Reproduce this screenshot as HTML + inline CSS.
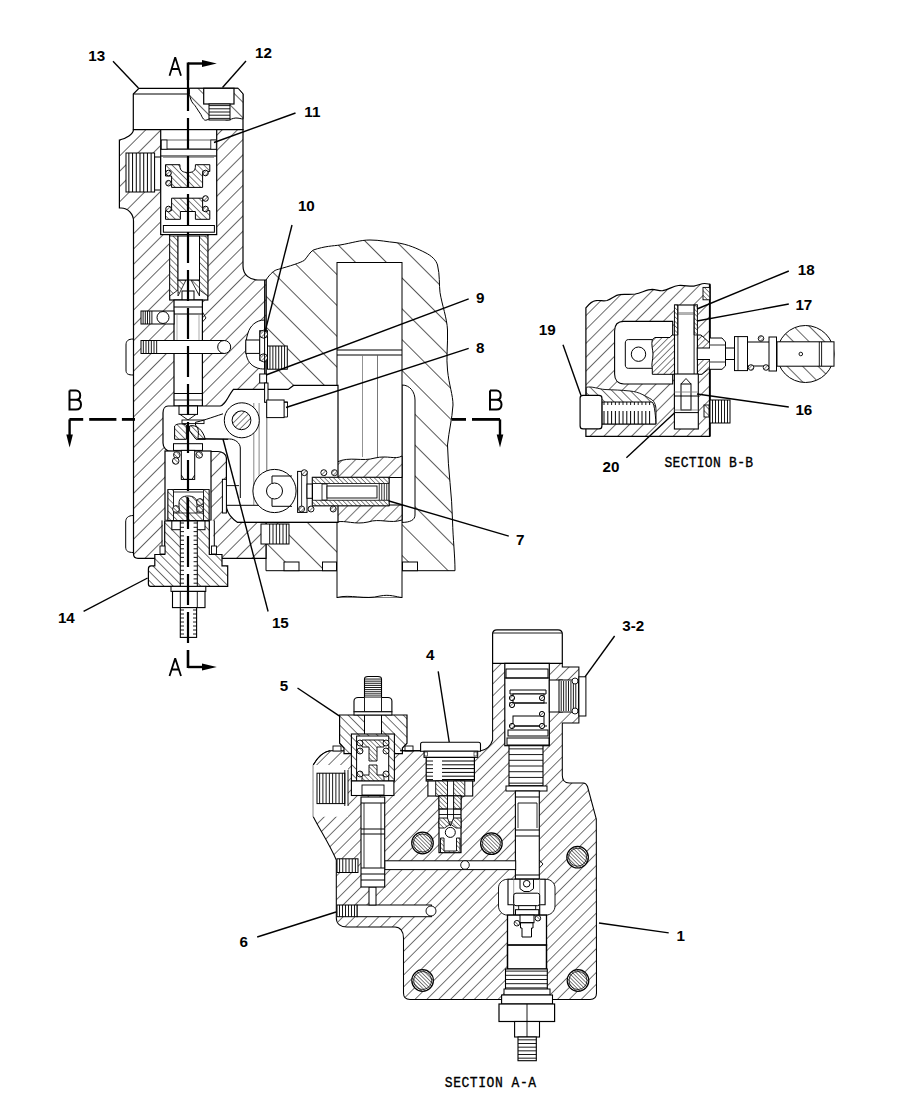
<!DOCTYPE html>
<html><head><meta charset="utf-8"><style>
html,body{margin:0;padding:0;background:#fff;}
svg{display:block;}
</style></head><body>
<svg width="918" height="1116" viewBox="0 0 918 1116" font-family="Liberation Sans">
<defs>
<pattern id="h1" width="10.8" height="10.8" patternUnits="userSpaceOnUse" patternTransform="rotate(45)"><line x1="0" y1="-1" x2="0" y2="12" stroke="#000" stroke-width="1.2"/></pattern>
<pattern id="hA" width="8.4" height="8.4" patternUnits="userSpaceOnUse" patternTransform="rotate(45)"><line x1="0" y1="-1" x2="0" y2="10" stroke="#000" stroke-width="1.1"/></pattern>
<pattern id="hB" width="9.8" height="9.8" patternUnits="userSpaceOnUse" patternTransform="rotate(45)"><line x1="0" y1="-1" x2="0" y2="11" stroke="#000" stroke-width="1.15"/></pattern>
<pattern id="h2" width="21.8" height="21.8" patternUnits="userSpaceOnUse" patternTransform="rotate(-45)"><line x1="0" y1="-1" x2="0" y2="23" stroke="#000" stroke-width="1.3"/></pattern>
<pattern id="h3" width="4.5" height="4.5" patternUnits="userSpaceOnUse" patternTransform="rotate(-45)"><line x1="0" y1="-1" x2="0" y2="6" stroke="#000" stroke-width="1"/></pattern>
<pattern id="h4" width="4.5" height="4.5" patternUnits="userSpaceOnUse" patternTransform="rotate(45)"><line x1="0" y1="-1" x2="0" y2="6" stroke="#000" stroke-width="1"/></pattern>
<pattern id="h5" width="3.2" height="3.2" patternUnits="userSpaceOnUse" patternTransform="rotate(-45)"><line x1="0" y1="-1" x2="0" y2="5" stroke="#000" stroke-width="0.9"/></pattern>
<pattern id="h6" width="9" height="9" patternUnits="userSpaceOnUse" patternTransform="rotate(45)"><line x1="0" y1="-1" x2="0" y2="10" stroke="#000" stroke-width="1.1"/></pattern>
<pattern id="h7" width="6.5" height="6.5" patternUnits="userSpaceOnUse" patternTransform="rotate(-45)"><line x1="0" y1="-1" x2="0" y2="8" stroke="#000" stroke-width="1.1"/></pattern>
<pattern id="hC" width="11" height="11" patternUnits="userSpaceOnUse" patternTransform="rotate(-45)"><line x1="0" y1="-1" x2="0" y2="12" stroke="#000" stroke-width="1.2"/></pattern>
<pattern id="hD" width="2.6" height="2.6" patternUnits="userSpaceOnUse" patternTransform="rotate(-45)"><line x1="0" y1="-1" x2="0" y2="4" stroke="#000" stroke-width="1.0"/></pattern>
<pattern id="h8" width="2.8" height="2.8" patternUnits="userSpaceOnUse" patternTransform="rotate(45)"><line x1="0" y1="-1" x2="0" y2="4" stroke="#000" stroke-width="0.9"/></pattern>
</defs>
<rect x="0" y="0" width="918" height="1116" fill="#fff"/>
<path d="M266,280 C270,274 274,270 278.4,269.3 C290,266 300,263 304.4,260.3 C308,256 310,252 313.4,250 C325,246 333,246 340,245 C352,243 360,240 370,240 C380,240 388,242 395,242.5 C408,244 418,249 425,252.5 C432,256 436,260 437.5,265 C440,275 439,285 440,292.5 C442,305 447,318 447.5,330 C448,345 446,358 447.5,370 C449,385 453,395 453,405 C452,420 449,430 447.5,445 C448,470 452,495 452.5,520 C453,540 455,555 455,570.7 L266,570.7 Z" fill="#fff" stroke="none"/>
<path d="M266,280 C270,274 274,270 278.4,269.3 C290,266 300,263 304.4,260.3 C308,256 310,252 313.4,250 C325,246 333,246 340,245 C352,243 360,240 370,240 C380,240 388,242 395,242.5 C408,244 418,249 425,252.5 C432,256 436,260 437.5,265 C440,275 439,285 440,292.5 C442,305 447,318 447.5,330 C448,345 446,358 447.5,370 C449,385 453,395 453,405 C452,420 449,430 447.5,445 C448,470 452,495 452.5,520 C453,540 455,555 455,570.7 L266,570.7 Z" fill="url(#h2)" stroke="#000" stroke-width="1" />
<path d="M266,389.3 L337,389.3 L337,522.4 L266,522.4 Z" fill="#fff" stroke="none" stroke-width="0" />
<path d="M402,385 C410,385 415,392 415,400 L415,515 C415,520 410,522.4 402,522.4 Z" fill="#fff" stroke="#000" stroke-width="1" />
<rect x="337" y="262.5" width="65" height="335" fill="#fff" stroke="#000" stroke-width="1" />
<path d="M337,597.5 C350,594 365,600 380,596 C390,594 396,597 402,597.5" fill="#fff" stroke="#000" stroke-width="1" />
<line x1="337" y1="350" x2="402" y2="350" stroke="#000" stroke-width="1" />
<line x1="337" y1="355" x2="402" y2="355" stroke="#000" stroke-width="1" />
<line x1="362.5" y1="355" x2="362.5" y2="457" stroke="#777" stroke-width="0.8" />
<line x1="377.5" y1="355" x2="377.5" y2="457" stroke="#555" stroke-width="0.8" />
<path d="M337,462 C350,456 362,462 375,458 C388,455 395,460 402,456 L402,477.5 L337,477.5 Z" fill="#fff" stroke="none"/>
<path d="M337,462 C350,456 362,462 375,458 C388,455 395,460 402,456 L402,477.5 L337,477.5 Z" fill="url(#h6)" stroke="#000" stroke-width="1" />
<path d="M337,505 L402,505 L402,520 C390,524 380,518 368,522 C355,525 345,520 337,522 Z" fill="#fff" stroke="none"/>
<path d="M337,505 L402,505 L402,520 C390,524 380,518 368,522 C355,525 345,520 337,522 Z" fill="url(#h6)" stroke="#000" stroke-width="1" />
<rect x="284" y="562" width="15" height="8.7" fill="#fff" stroke="#000" stroke-width="1" />
<rect x="322.5" y="562" width="14" height="8.7" fill="#fff" stroke="#000" stroke-width="1" />
<rect x="402.5" y="562" width="15" height="8.7" fill="#fff" stroke="#000" stroke-width="1" />
<line x1="266" y1="522.4" x2="337" y2="522.4" stroke="#000" stroke-width="1" />
<path d="M138.9,88.3 L238,88.3 L243,94 L243,129.6 L133.3,129.6 L133.3,94 Z" fill="#fff" stroke="#000" stroke-width="1.2" />
<line x1="133.3" y1="94" x2="190" y2="94" stroke="#000" stroke-width="1" />
<path d="M189.4,94.5 C190,97 190.5,99 191.6,101.3 C193,104 195,105 196.2,107.4 C198,110 199,112 200.8,114.3 C202,117 203,119 204.6,120 C206,121 208,119 210,118.9 C214,118 217,116 220.6,117.3 C223,118 225,120 226.7,120 C230,120 233,118 235.9,118 C239,118 241,119 243,118.9 L243,94 L238,88.3 L189.4,88.3 Z" fill="#fff" stroke="none"/>
<path d="M189.4,94.5 C190,97 190.5,99 191.6,101.3 C193,104 195,105 196.2,107.4 C198,110 199,112 200.8,114.3 C202,117 203,119 204.6,120 C206,121 208,119 210,118.9 C214,118 217,116 220.6,117.3 C223,118 225,120 226.7,120 C230,120 233,118 235.9,118 C239,118 241,119 243,118.9 L243,94 L238,88.3 L189.4,88.3 Z" fill="url(#hC)" stroke="#000" stroke-width="1" />
<rect x="203.7" y="88.3" width="30.3" height="15.7" fill="#fff" stroke="#000" stroke-width="1.2" />
<rect x="209" y="104" width="21" height="16" fill="#fff" stroke="#000" stroke-width="1" />
<line x1="209" y1="105.6" x2="230" y2="105.6" stroke="#000" stroke-width="0.9" />
<line x1="209" y1="108.8" x2="230" y2="108.8" stroke="#000" stroke-width="0.9" />
<line x1="209" y1="112" x2="230" y2="112" stroke="#000" stroke-width="0.9" />
<line x1="209" y1="115.2" x2="230" y2="115.2" stroke="#000" stroke-width="0.9" />
<line x1="209" y1="118.4" x2="230" y2="118.4" stroke="#000" stroke-width="0.9" />
<path d="M133.5,129.6 L243,129.6 L243,266 C243,275 250,280 258,280 L266,280 L266,558.3 L138,558.3 Q133.5,558.3 133.5,554 L133.5,221 C133.5,214 128,208 121,208 L119.4,208 L119.4,140 C126,139 133.5,134 133.5,129.6 Z" fill="#fff" stroke="none"/>
<path d="M133.5,129.6 L243,129.6 L243,266 C243,275 250,280 258,280 L266,280 L266,558.3 L138,558.3 Q133.5,558.3 133.5,554 L133.5,221 C133.5,214 128,208 121,208 L119.4,208 L119.4,140 C126,139 133.5,134 133.5,129.6 Z" fill="url(#h1)" stroke="#000" stroke-width="1.2" />
<path d="M133.5,339 C128,339 126,341 126,345 L126,370 C126,374 128,375 133.5,375" fill="none" stroke="#000" stroke-width="1" />
<path d="M133.5,515.5 C128,515.5 125.7,518 125.7,522 L125.7,547 C125.7,551 128,552.5 133.5,552.5" fill="none" stroke="#000" stroke-width="1" />
<rect x="126" y="153" width="28.6" height="39" fill="#fff" stroke="#000" stroke-width="1" />
<line x1="128.86" y1="153" x2="128.86" y2="192" stroke="#000" stroke-width="1" />
<line x1="132.57" y1="153" x2="132.57" y2="192" stroke="#000" stroke-width="1" />
<line x1="136.29" y1="153" x2="136.29" y2="192" stroke="#000" stroke-width="1" />
<line x1="140" y1="153" x2="140" y2="192" stroke="#000" stroke-width="1" />
<line x1="143.71" y1="153" x2="143.71" y2="192" stroke="#000" stroke-width="1" />
<line x1="147.43" y1="153" x2="147.43" y2="192" stroke="#000" stroke-width="1" />
<line x1="151.14" y1="153" x2="151.14" y2="192" stroke="#000" stroke-width="1" />
<rect x="154.6" y="157" width="6.1" height="33" fill="#fff" stroke="#000" stroke-width="1" />
<rect x="160.7" y="129.6" width="56" height="105" fill="#fff" stroke="#000" stroke-width="1.2" />
<line x1="160.7" y1="140" x2="216.7" y2="140" stroke="#555" stroke-width="0.9" />
<line x1="160.7" y1="149.2" x2="216.7" y2="149.2" stroke="#000" stroke-width="1.2" />
<rect x="161.3" y="140" width="5.7" height="9.2" fill="#fff" stroke="#000" stroke-width="0.8" />
<rect x="210.8" y="140" width="5.5" height="9.2" fill="#fff" stroke="#000" stroke-width="0.8" />
<line x1="163" y1="157.5" x2="214" y2="157.5" stroke="#888" stroke-width="0.8" />
<line x1="160.7" y1="156" x2="216.7" y2="156" stroke="#000" stroke-width="1.2" />
<path d="M165.5,164.7 L179.9,164.7 L179.9,166 C180,171 183,172.5 188,172.5 C193,172.5 195.4,171 195.4,166 L195.4,164.7 L209.8,164.7 L209.8,171.5 L202.6,171.5 L202.6,187.4 L171.6,187.4 L171.6,176 L165.5,176 Z" fill="#fff" stroke="none"/>
<path d="M165.5,164.7 L179.9,164.7 L179.9,166 C180,171 183,172.5 188,172.5 C193,172.5 195.4,171 195.4,166 L195.4,164.7 L209.8,164.7 L209.8,171.5 L202.6,171.5 L202.6,187.4 L171.6,187.4 L171.6,176 L165.5,176 Z" fill="url(#h3)" stroke="#000" stroke-width="1" />
<path d="M171.6,198.2 L202.6,198.2 L202.6,210.6 L209.8,210.6 L209.8,219.3 L195.4,219.3 L195.4,211.5 L180.4,211.5 L180.4,219.3 L165.5,219.3 L165.5,210.6 L171.6,210.6 Z" fill="#fff" stroke="none"/>
<path d="M171.6,198.2 L202.6,198.2 L202.6,210.6 L209.8,210.6 L209.8,219.3 L195.4,219.3 L195.4,211.5 L180.4,211.5 L180.4,219.3 L165.5,219.3 L165.5,210.6 L171.6,210.6 Z" fill="url(#h3)" stroke="#000" stroke-width="1" />
<circle cx="168.5" cy="173" r="2.8" fill="#fff"/>
<circle cx="168.5" cy="173" r="2.8" fill="url(#h8)" stroke="#000" stroke-width="1" />
<circle cx="168.5" cy="183.2" r="2.8" fill="#fff"/>
<circle cx="168.5" cy="183.2" r="2.8" fill="url(#h8)" stroke="#000" stroke-width="1" />
<circle cx="205.5" cy="173" r="2.8" fill="#fff"/>
<circle cx="205.5" cy="173" r="2.8" fill="url(#h8)" stroke="#000" stroke-width="1" />
<circle cx="168.5" cy="209" r="2.8" fill="#fff"/>
<circle cx="168.5" cy="209" r="2.8" fill="url(#h8)" stroke="#000" stroke-width="1" />
<circle cx="205.5" cy="198.5" r="2.8" fill="#fff"/>
<circle cx="205.5" cy="198.5" r="2.8" fill="url(#h8)" stroke="#000" stroke-width="1" />
<circle cx="205.5" cy="209" r="2.8" fill="#fff"/>
<circle cx="205.5" cy="209" r="2.8" fill="url(#h8)" stroke="#000" stroke-width="1" />
<rect x="163.4" y="225.5" width="51" height="6.7" fill="#fff" stroke="#000" stroke-width="1" />
<rect x="169.7" y="234.6" width="38.1" height="65.4" fill="#fff" stroke="#000" stroke-width="1.2" />
<path d="M169.7,236 L178,236 L178,290 L169.7,296 Z" fill="#fff" stroke="none"/>
<path d="M169.7,236 L178,236 L178,290 L169.7,296 Z" fill="url(#h3)" stroke="#000" stroke-width="0.8" />
<path d="M199.5,236 L207.8,236 L207.8,296 L199.5,290 Z" fill="#fff" stroke="none"/>
<path d="M199.5,236 L207.8,236 L207.8,296 L199.5,290 Z" fill="url(#h3)" stroke="#000" stroke-width="0.8" />
<path d="M178,280 L186,280 L178,296 Z M199.5,280 L191,280 L199.5,296 Z" fill="#fff" stroke="none"/>
<path d="M178,280 L186,280 L178,296 Z M199.5,280 L191,280 L199.5,296 Z" fill="url(#h3)" stroke="#000" stroke-width="0.8" />
<rect x="178" y="236" width="21.5" height="44" fill="#fff" stroke="#000" stroke-width="1" />
<rect x="182" y="291" width="12" height="9" fill="#fff" stroke="#000" stroke-width="1" />
<rect x="174" y="300" width="28.4" height="106" fill="#fff" stroke="#000" stroke-width="1.2" />
<line x1="174" y1="307" x2="202.4" y2="307" stroke="#000" stroke-width="1" />
<line x1="174" y1="314" x2="202.4" y2="314" stroke="#000" stroke-width="1" />
<line x1="174" y1="344" x2="202.4" y2="344" stroke="#000" stroke-width="1" />
<line x1="174" y1="349" x2="202.4" y2="349" stroke="#000" stroke-width="1" />
<line x1="174" y1="393.5" x2="202.4" y2="393.5" stroke="#000" stroke-width="1" />
<line x1="174" y1="400" x2="202.4" y2="400" stroke="#000" stroke-width="0.8" />
<line x1="177" y1="314" x2="177" y2="344" stroke="#888" stroke-width="0.7" />
<line x1="199" y1="314" x2="199" y2="344" stroke="#888" stroke-width="0.7" />
<rect x="141" y="311" width="33" height="13" fill="#fff" stroke="#000" stroke-width="1" />
<line x1="143.1" y1="311" x2="143.1" y2="324" stroke="#000" stroke-width="0.9" />
<line x1="145.3" y1="311" x2="145.3" y2="324" stroke="#000" stroke-width="0.9" />
<line x1="147.5" y1="311" x2="147.5" y2="324" stroke="#000" stroke-width="0.9" />
<line x1="149.7" y1="311" x2="149.7" y2="324" stroke="#000" stroke-width="0.9" />
<line x1="151.9" y1="311" x2="151.9" y2="324" stroke="#000" stroke-width="0.9" />
<circle cx="163" cy="317.5" r="6" fill="#fff" stroke="#000" stroke-width="1" />
<rect x="141" y="340.5" width="83" height="13" fill="#fff" stroke="#000" stroke-width="1" />
<line x1="143.33" y1="340.5" x2="143.33" y2="353.5" stroke="#000" stroke-width="0.9" />
<line x1="146" y1="340.5" x2="146" y2="353.5" stroke="#000" stroke-width="0.9" />
<line x1="148.67" y1="340.5" x2="148.67" y2="353.5" stroke="#000" stroke-width="0.9" />
<line x1="151.33" y1="340.5" x2="151.33" y2="353.5" stroke="#000" stroke-width="0.9" />
<line x1="154" y1="340.5" x2="154" y2="353.5" stroke="#000" stroke-width="0.9" />
<line x1="156.67" y1="340.5" x2="156.67" y2="353.5" stroke="#000" stroke-width="0.9" />
<circle cx="224.2" cy="347" r="6.5" fill="#fff" stroke="#000" stroke-width="1" />
<path d="M202.4,312 L206,318 L202.4,322" fill="none" stroke="#000" stroke-width="0.9" />
<path d="M264.6,320 C256,320 250,326 248,333 C246,338 245.8,345 245.8,350 C246,358 249,364 255,367 C259,369 262,369 264.6,369 Z" fill="#fff" stroke="#000" stroke-width="1" />
<rect x="245.8" y="340" width="13.9" height="13.4" fill="#fff" stroke="#000" stroke-width="1" />
<rect x="259.7" y="330.7" width="7.8" height="29.6" fill="#fff" stroke="#000" stroke-width="1" />
<circle cx="263.6" cy="334.2" r="4" fill="#fff"/>
<circle cx="263.6" cy="334.2" r="4" fill="url(#h8)" stroke="#000" stroke-width="0.9" />
<circle cx="263.6" cy="357.8" r="4" fill="#fff"/>
<circle cx="263.6" cy="357.8" r="4" fill="url(#h8)" stroke="#000" stroke-width="0.9" />
<rect x="267.5" y="346" width="19.8" height="23.2" fill="#fff" stroke="#000" stroke-width="1" />
<line x1="269.96" y1="346" x2="269.96" y2="369.2" stroke="#000" stroke-width="0.9" />
<line x1="272.88" y1="346" x2="272.88" y2="369.2" stroke="#000" stroke-width="0.9" />
<line x1="275.79" y1="346" x2="275.79" y2="369.2" stroke="#000" stroke-width="0.9" />
<line x1="278.71" y1="346" x2="278.71" y2="369.2" stroke="#000" stroke-width="0.9" />
<line x1="281.62" y1="346" x2="281.62" y2="369.2" stroke="#000" stroke-width="0.9" />
<line x1="284.54" y1="346" x2="284.54" y2="369.2" stroke="#000" stroke-width="0.9" />
<line x1="264.6" y1="280" x2="264.6" y2="389.4" stroke="#000" stroke-width="1" />
<rect x="259.7" y="374" width="6.9" height="9" fill="#fff" stroke="#000" stroke-width="1" />
<path d="M168,406 L220.4,406 C225,406 228,396 233.4,389.4 L288.2,389.4 L293.5,385.4 L338,385.4 L338,522.4 L237.6,522.4 C231,518 226.4,512 226.4,505 L226.4,458 C226.4,454 222,451.5 218,451.5 L172,451.7 C166,451.7 163,447 163,443 L163,413 C163,409 165,406 168,406 Z" fill="#fff" stroke="#000" stroke-width="1.2" />
<path d="M198,439 L229.6,439 C235,439 240.3,443 240.3,448 L240.3,498" fill="none" stroke="#000" stroke-width="1" />
<rect x="222.4" y="479.3" width="4" height="33.7" fill="#fff" stroke="#000" stroke-width="1" />
<line x1="226.9" y1="485.6" x2="239" y2="485.6" stroke="#000" stroke-width="0.9" />
<line x1="253.8" y1="403" x2="253.8" y2="505" stroke="#888" stroke-width="1" />
<line x1="259.1" y1="403" x2="259.1" y2="505" stroke="#888" stroke-width="1" />
<line x1="266.8" y1="403" x2="266.8" y2="505" stroke="#666" stroke-width="1" />
<line x1="226.4" y1="505.3" x2="266.8" y2="505.3" stroke="#000" stroke-width="1" />
<line x1="237.6" y1="522.4" x2="338" y2="522.4" stroke="#000" stroke-width="1" />
<rect x="165" y="451" width="46" height="69.4" fill="#fff" stroke="#000" stroke-width="1.2" />
<path d="M162.7,520.4 L213.4,520.4 L213.4,558.3 L162.7,558.3 Z" fill="#fff" stroke="none" stroke-width="0" />
<line x1="162" y1="520.4" x2="162" y2="558.3" stroke="#000" stroke-width="1" />
<line x1="214.3" y1="520.4" x2="214.3" y2="558.3" stroke="#000" stroke-width="1" />
<rect x="168" y="489.5" width="41" height="31" fill="#fff" stroke="#000" stroke-width="1" />
<path d="M168,489.5 L173.5,489.5 L173.5,520.5 L168,520.5 Z M203.5,489.5 L209,489.5 L209,520.5 L203.5,520.5 Z" fill="#fff" stroke="none"/>
<path d="M168,489.5 L173.5,489.5 L173.5,520.5 L168,520.5 Z M203.5,489.5 L209,489.5 L209,520.5 L203.5,520.5 Z" fill="url(#h3)" stroke="#000" stroke-width="0.8" />
<rect x="173.5" y="492" width="30" height="28.5" fill="#fff" stroke="#000" stroke-width="0.8" />
<path d="M179,520 L179,503 C179,498 183,496 188,496 C193,496 197,498 197,503 L197,520 Z" fill="#fff" stroke="none"/>
<path d="M179,520 L179,503 C179,498 183,496 188,496 C193,496 197,498 197,503 L197,520 Z" fill="url(#h3)" stroke="#000" stroke-width="0.9" />
<path d="M173.5,513 L203.5,513 L203.5,520.5 L173.5,520.5 Z" fill="#fff" stroke="none"/>
<path d="M173.5,513 L203.5,513 L203.5,520.5 L173.5,520.5 Z" fill="url(#h3)" stroke="#000" stroke-width="0.8" />
<line x1="187.5" y1="497" x2="187.5" y2="520" stroke="#000" stroke-width="2" />
<circle cx="176" cy="509" r="3.4" fill="#fff"/>
<circle cx="176" cy="509" r="3.4" fill="url(#h5)" stroke="#000" stroke-width="0.9" />
<circle cx="200" cy="509" r="3.4" fill="#fff"/>
<circle cx="200" cy="509" r="3.4" fill="url(#h5)" stroke="#000" stroke-width="0.9" />
<circle cx="200" cy="502" r="3.4" fill="#fff"/>
<circle cx="200" cy="502" r="3.4" fill="url(#h5)" stroke="#000" stroke-width="0.9" />
<rect x="173.5" y="443.7" width="29" height="6.7" fill="#fff" stroke="#000" stroke-width="1" />
<rect x="181.3" y="450.4" width="13.4" height="29" fill="#fff" stroke="#000" stroke-width="1" />
<path d="M181.3,475 L184,479.4 L192,479.4 L194.7,475" fill="none" stroke="#000" stroke-width="0.9" />
<circle cx="176.8" cy="454.9" r="3.3" fill="#fff"/>
<circle cx="176.8" cy="454.9" r="3.3" fill="url(#h5)" stroke="#000" stroke-width="0.9" />
<circle cx="199.2" cy="454.9" r="3.3" fill="#fff"/>
<circle cx="199.2" cy="454.9" r="3.3" fill="url(#h5)" stroke="#000" stroke-width="0.9" />
<circle cx="175.7" cy="461" r="3.3" fill="#fff"/>
<circle cx="175.7" cy="461" r="3.3" fill="url(#h5)" stroke="#000" stroke-width="0.9" />
<rect x="179" y="406" width="18.5" height="8.4" fill="#fff" stroke="#000" stroke-width="1" />
<path d="M180,414.4 L188,420 L196,414.4" fill="none" stroke="#000" stroke-width="0.9" />
<rect x="182" y="420" width="22" height="3.6" fill="#fff" stroke="#000" stroke-width="0.9" />
<path d="M174.6,426 C177,423 183,423.6 186.4,425 L186.4,439.3 L174.6,439.3 Z" fill="#fff" stroke="none"/>
<path d="M174.6,426 C177,423 183,423.6 186.4,425 L186.4,439.3 L174.6,439.3 Z" fill="url(#h3)" stroke="#000" stroke-width="1" />
<path d="M189.6,426 C196,424 203,430 205.3,439.3 L196,439.3 L189.6,431 Z" fill="#fff" stroke="none"/>
<path d="M189.6,426 C196,424 203,430 205.3,439.3 L196,439.3 L189.6,431 Z" fill="url(#h3)" stroke="#000" stroke-width="1" />
<line x1="264.6" y1="402.2" x2="288" y2="402.2" stroke="#000" stroke-width="1" />
<path d="M223,413.8 C210,418 202,421 195.5,422.3 L195.5,425 C200,430 198,435 198,438.6 L228,439.3" fill="none" stroke="#000" stroke-width="1" />
<circle cx="241.8" cy="420.3" r="17.5" fill="#fff" stroke="#000" stroke-width="1" />
<circle cx="241.5" cy="420.3" r="9.4" fill="#fff"/>
<circle cx="241.5" cy="420.3" r="9.4" fill="url(#h4)" stroke="#000" stroke-width="1" />
<rect x="264.6" y="383" width="3.4" height="19.2" fill="#fff" stroke="#000" stroke-width="1" />
<rect x="266.7" y="400" width="17.4" height="17.6" fill="#fff" stroke="#000" stroke-width="1" />
<path d="M284.1,402 L287.5,402 L287.5,417 M284.1,417 L287.5,417" fill="none" stroke="#000" stroke-width="0.9" />
<circle cx="274.5" cy="491" r="21.6" fill="#fff" stroke="#000" stroke-width="1" />
<circle cx="274.5" cy="491" r="8" fill="#fff" stroke="#000" stroke-width="1" />
<path d="M292,476 L272,476 L272,483 M272,499 L272,506.3 L292,506.3" fill="none" stroke="#000" stroke-width="1" />
<rect x="297.6" y="471.4" width="9.4" height="41" fill="#fff" stroke="#000" stroke-width="1" />
<line x1="301.6" y1="471.4" x2="301.6" y2="512.4" stroke="#000" stroke-width="0.8" />
<rect x="307" y="484" width="5.4" height="14.3" fill="#fff" stroke="#000" stroke-width="1" />
<rect x="312.4" y="477.4" width="76.6" height="28.3" fill="#fff" stroke="#000" stroke-width="1.2" />
<path d="M312.4,477.4 L389,477.4 L389,483.5 L312.4,483.5 Z" fill="#fff" stroke="none"/>
<path d="M312.4,477.4 L389,477.4 L389,483.5 L312.4,483.5 Z" fill="url(#h5)" stroke="#000" stroke-width="0.8" />
<path d="M312.4,500.3 L389,500.3 L389,505.7 L312.4,505.7 Z" fill="#fff" stroke="none"/>
<path d="M312.4,500.3 L389,500.3 L389,505.7 L312.4,505.7 Z" fill="url(#h5)" stroke="#000" stroke-width="0.8" />
<rect x="322" y="484" width="5" height="16" fill="#fff" stroke="#000" stroke-width="0.8" />
<rect x="327" y="486" width="50" height="12" fill="#fff" stroke="#000" stroke-width="0.9" />
<line x1="379.25" y1="483.5" x2="379.25" y2="500" stroke="#000" stroke-width="0.8" />
<line x1="381.75" y1="483.5" x2="381.75" y2="500" stroke="#000" stroke-width="0.8" />
<line x1="384.25" y1="483.5" x2="384.25" y2="500" stroke="#000" stroke-width="0.8" />
<line x1="386.75" y1="483.5" x2="386.75" y2="500" stroke="#000" stroke-width="0.8" />
<circle cx="304.3" cy="472.7" r="3" fill="#fff"/>
<circle cx="304.3" cy="472.7" r="3" fill="url(#h8)" stroke="#000" stroke-width="0.9" />
<circle cx="323.8" cy="472.7" r="3" fill="#fff"/>
<circle cx="323.8" cy="472.7" r="3" fill="url(#h8)" stroke="#000" stroke-width="0.9" />
<circle cx="334.5" cy="472.7" r="3" fill="#fff"/>
<circle cx="334.5" cy="472.7" r="3" fill="url(#h8)" stroke="#000" stroke-width="0.9" />
<circle cx="301.6" cy="509" r="3" fill="#fff"/>
<circle cx="301.6" cy="509" r="3" fill="url(#h8)" stroke="#000" stroke-width="0.9" />
<circle cx="311" cy="509" r="3" fill="#fff"/>
<circle cx="311" cy="509" r="3" fill="url(#h8)" stroke="#000" stroke-width="0.9" />
<circle cx="333.2" cy="509" r="3" fill="#fff"/>
<circle cx="333.2" cy="509" r="3" fill="url(#h8)" stroke="#000" stroke-width="0.9" />
<rect x="261" y="524" width="28" height="20" fill="#fff" stroke="#000" stroke-width="1" />
<line x1="269.67" y1="524" x2="269.67" y2="544" stroke="#000" stroke-width="0.9" />
<line x1="273" y1="524" x2="273" y2="544" stroke="#000" stroke-width="0.9" />
<line x1="276.33" y1="524" x2="276.33" y2="544" stroke="#000" stroke-width="0.9" />
<line x1="279.67" y1="524" x2="279.67" y2="544" stroke="#000" stroke-width="0.9" />
<line x1="283" y1="524" x2="283" y2="544" stroke="#000" stroke-width="0.9" />
<line x1="286.33" y1="524" x2="286.33" y2="544" stroke="#000" stroke-width="0.9" />
<path d="M164.7,521 L209.3,521 L209.3,554.5 L222,554.5 L222,565.9 L227.7,565.9 L227.7,586.4 L150.5,586.4 Q148.4,586.4 148.4,584 L148.4,569 Q148.4,565.9 151,565.9 L154.8,565.9 L154.8,554.5 L164.7,554.5 Z" fill="#fff" stroke="none"/>
<path d="M164.7,521 L209.3,521 L209.3,554.5 L222,554.5 L222,565.9 L227.7,565.9 L227.7,586.4 L150.5,586.4 Q148.4,586.4 148.4,584 L148.4,569 Q148.4,565.9 151,565.9 L154.8,565.9 L154.8,554.5 L164.7,554.5 Z" fill="url(#h7)" stroke="#000" stroke-width="1.2" />
<rect x="171.8" y="521" width="33.2" height="8.7" fill="#fff" stroke="#000" stroke-width="1" />
<rect x="180.3" y="521" width="17" height="65.4" fill="#fff" stroke="#000" stroke-width="1" />
<line x1="180.3" y1="523" x2="184" y2="523" stroke="#000" stroke-width="0.9" />
<line x1="193.6" y1="523" x2="197.3" y2="523" stroke="#000" stroke-width="0.9" />
<line x1="180.3" y1="527.3" x2="184" y2="527.3" stroke="#000" stroke-width="0.9" />
<line x1="193.6" y1="527.3" x2="197.3" y2="527.3" stroke="#000" stroke-width="0.9" />
<line x1="180.3" y1="531.6" x2="184" y2="531.6" stroke="#000" stroke-width="0.9" />
<line x1="193.6" y1="531.6" x2="197.3" y2="531.6" stroke="#000" stroke-width="0.9" />
<line x1="180.3" y1="535.9" x2="184" y2="535.9" stroke="#000" stroke-width="0.9" />
<line x1="193.6" y1="535.9" x2="197.3" y2="535.9" stroke="#000" stroke-width="0.9" />
<line x1="180.3" y1="540.2" x2="184" y2="540.2" stroke="#000" stroke-width="0.9" />
<line x1="193.6" y1="540.2" x2="197.3" y2="540.2" stroke="#000" stroke-width="0.9" />
<line x1="180.3" y1="544.5" x2="184" y2="544.5" stroke="#000" stroke-width="0.9" />
<line x1="193.6" y1="544.5" x2="197.3" y2="544.5" stroke="#000" stroke-width="0.9" />
<line x1="180.3" y1="548.8" x2="184" y2="548.8" stroke="#000" stroke-width="0.9" />
<line x1="193.6" y1="548.8" x2="197.3" y2="548.8" stroke="#000" stroke-width="0.9" />
<line x1="180.3" y1="553.1" x2="184" y2="553.1" stroke="#000" stroke-width="0.9" />
<line x1="193.6" y1="553.1" x2="197.3" y2="553.1" stroke="#000" stroke-width="0.9" />
<line x1="180.3" y1="557.4" x2="184" y2="557.4" stroke="#000" stroke-width="0.9" />
<line x1="193.6" y1="557.4" x2="197.3" y2="557.4" stroke="#000" stroke-width="0.9" />
<line x1="180.3" y1="561.7" x2="184" y2="561.7" stroke="#000" stroke-width="0.9" />
<line x1="193.6" y1="561.7" x2="197.3" y2="561.7" stroke="#000" stroke-width="0.9" />
<line x1="180.3" y1="566" x2="184" y2="566" stroke="#000" stroke-width="0.9" />
<line x1="193.6" y1="566" x2="197.3" y2="566" stroke="#000" stroke-width="0.9" />
<line x1="180.3" y1="570.3" x2="184" y2="570.3" stroke="#000" stroke-width="0.9" />
<line x1="193.6" y1="570.3" x2="197.3" y2="570.3" stroke="#000" stroke-width="0.9" />
<line x1="180.3" y1="574.6" x2="184" y2="574.6" stroke="#000" stroke-width="0.9" />
<line x1="193.6" y1="574.6" x2="197.3" y2="574.6" stroke="#000" stroke-width="0.9" />
<line x1="180.3" y1="578.9" x2="184" y2="578.9" stroke="#000" stroke-width="0.9" />
<line x1="193.6" y1="578.9" x2="197.3" y2="578.9" stroke="#000" stroke-width="0.9" />
<line x1="180.3" y1="583.2" x2="184" y2="583.2" stroke="#000" stroke-width="0.9" />
<line x1="193.6" y1="583.2" x2="197.3" y2="583.2" stroke="#000" stroke-width="0.9" />
<rect x="160" y="546" width="5" height="8" fill="#fff" stroke="#000" stroke-width="0.9" />
<rect x="211.5" y="546" width="5" height="8" fill="#fff" stroke="#000" stroke-width="0.9" />
<rect x="171" y="586.4" width="34.8" height="5" fill="#fff" stroke="#000" stroke-width="1" />
<rect x="172.5" y="591.4" width="32.5" height="16.2" fill="#fff" stroke="#000" stroke-width="1.1" />
<line x1="180.3" y1="591.4" x2="180.3" y2="607.6" stroke="#000" stroke-width="0.9" />
<line x1="197.3" y1="591.4" x2="197.3" y2="607.6" stroke="#000" stroke-width="0.9" />
<rect x="180.3" y="607.6" width="16.3" height="29.8" fill="#fff" stroke="#000" stroke-width="1.1" />
<line x1="180.3" y1="610" x2="184" y2="610" stroke="#000" stroke-width="0.9" />
<line x1="193" y1="610" x2="196.6" y2="610" stroke="#000" stroke-width="0.9" />
<line x1="180.3" y1="614" x2="184" y2="614" stroke="#000" stroke-width="0.9" />
<line x1="193" y1="614" x2="196.6" y2="614" stroke="#000" stroke-width="0.9" />
<line x1="180.3" y1="618" x2="184" y2="618" stroke="#000" stroke-width="0.9" />
<line x1="193" y1="618" x2="196.6" y2="618" stroke="#000" stroke-width="0.9" />
<line x1="180.3" y1="622" x2="184" y2="622" stroke="#000" stroke-width="0.9" />
<line x1="193" y1="622" x2="196.6" y2="622" stroke="#000" stroke-width="0.9" />
<line x1="180.3" y1="626" x2="184" y2="626" stroke="#000" stroke-width="0.9" />
<line x1="193" y1="626" x2="196.6" y2="626" stroke="#000" stroke-width="0.9" />
<line x1="180.3" y1="630" x2="184" y2="630" stroke="#000" stroke-width="0.9" />
<line x1="193" y1="630" x2="196.6" y2="630" stroke="#000" stroke-width="0.9" />
<line x1="180.3" y1="634" x2="184" y2="634" stroke="#000" stroke-width="0.9" />
<line x1="193" y1="634" x2="196.6" y2="634" stroke="#000" stroke-width="0.9" />
<path d="M585.9,307.8 C589,304 592,301 595.8,300.6 C600,300 603,301.5 607,300.5 C612,299 615,295 619.6,294.6 C625,294 630,295 635.3,294 C642,292.5 647,289.5 652.3,289.4 C656,289.5 659,291 662.7,290.7 C668,290 673,286 678.4,285.5 C684,285 689,286.5 694,286.1 C698,285.5 701,283.5 704.6,283.5 C707,283.5 708.5,284 709.8,284.2 L709.8,436.3 L585.9,436.3 Z" fill="#fff" stroke="none"/>
<path d="M585.9,307.8 C589,304 592,301 595.8,300.6 C600,300 603,301.5 607,300.5 C612,299 615,295 619.6,294.6 C625,294 630,295 635.3,294 C642,292.5 647,289.5 652.3,289.4 C656,289.5 659,291 662.7,290.7 C668,290 673,286 678.4,285.5 C684,285 689,286.5 694,286.1 C698,285.5 701,283.5 704.6,283.5 C707,283.5 708.5,284 709.8,284.2 L709.8,436.3 L585.9,436.3 Z" fill="url(#hB)" stroke="#000" stroke-width="1.2" />
<line x1="709.8" y1="284.2" x2="709.8" y2="436.3" stroke="#000" stroke-width="1.8" />
<path d="M672.7,321.4 L623.6,321.4 C618,321.4 614.6,325 614.6,331 L614.6,374 C614.6,380 618,384 624,384 L672.7,384 Z" fill="#fff" stroke="#000" stroke-width="1.1" />
<path d="M654,339.6 L628.3,339.6 C626.5,339.6 625.3,341 625.3,343 L625.3,365 C625.3,367 626.5,368.3 628.3,368.3 L654,368.3" fill="#fff" stroke="#000" stroke-width="1" />
<circle cx="638.5" cy="354.2" r="7.2" fill="#fff" stroke="#000" stroke-width="1" />
<path d="M652.3,339.6 C651,345 653,350 653,354 C653,360 651,365 652.3,368.3 L652.3,374.3 L674.5,374.3 L674.5,335 L672,335 L670,337.5 L655,337.5 Z" fill="#fff" stroke="none"/>
<path d="M652.3,339.6 C651,345 653,350 653,354 C653,360 651,365 652.3,368.3 L652.3,374.3 L674.5,374.3 L674.5,335 L672,335 L670,337.5 L655,337.5 Z" fill="url(#h4)" stroke="#000" stroke-width="1" />
<path d="M697.4,335 L701,335 L709.8,343 L709.8,368 L702,374.3 L697.4,374.3 Z" fill="#fff" stroke="none"/>
<path d="M697.4,335 L701,335 L709.8,343 L709.8,368 L702,374.3 L697.4,374.3 Z" fill="url(#h4)" stroke="#000" stroke-width="1" />
<rect x="674.5" y="305" width="22.9" height="70.7" fill="#fff" stroke="#000" stroke-width="1.1" />
<path d="M674.5,305 L677.8,305 L677.8,335 L674.5,335 Z M694.1,305 L697.4,305 L697.4,335 L694.1,335 Z" fill="#fff" stroke="none"/>
<path d="M674.5,305 L677.8,305 L677.8,335 L674.5,335 Z M694.1,305 L697.4,305 L697.4,335 L694.1,335 Z" fill="url(#h5)" stroke="#000" stroke-width="0.8" />
<line x1="677.8" y1="313" x2="694.1" y2="313" stroke="#666" stroke-width="1" />
<line x1="677.8" y1="314.5" x2="694.1" y2="314.5" stroke="#999" stroke-width="0.8" />
<line x1="677.8" y1="305" x2="677.8" y2="375.7" stroke="#000" stroke-width="0.9" />
<line x1="694.1" y1="305" x2="694.1" y2="375.7" stroke="#000" stroke-width="0.9" />
<rect x="674.4" y="374" width="23.9" height="55" fill="#fff" stroke="#000" stroke-width="1.1" />
<path d="M681,384 L686,378.5 L691,384" fill="none" stroke="#000" stroke-width="0.9" />
<rect x="681" y="384" width="10" height="26" fill="#fff" stroke="#000" stroke-width="1" />
<line x1="674.4" y1="392" x2="698.3" y2="392" stroke="#777" stroke-width="0.8" />
<line x1="674.4" y1="396" x2="698.3" y2="396" stroke="#000" stroke-width="1" />
<line x1="674.4" y1="410" x2="698.3" y2="410" stroke="#777" stroke-width="0.8" />
<line x1="674.4" y1="412.6" x2="698.3" y2="412.6" stroke="#000" stroke-width="1" />
<rect x="697.3" y="348" width="40.7" height="11.5" fill="#fff" stroke="#000" stroke-width="1" />
<path d="M710,338 L722,338 L725.5,342 L725.5,366 L722,369.3 L710,369.3" fill="#fff" stroke="#000" stroke-width="1" />
<line x1="710" y1="345" x2="725.5" y2="345" stroke="#000" stroke-width="0.8" />
<line x1="710" y1="362" x2="725.5" y2="362" stroke="#000" stroke-width="0.8" />
<rect x="734.5" y="336.6" width="13" height="34" fill="#fff" stroke="#000" stroke-width="1" />
<line x1="738" y1="336.6" x2="738" y2="370.6" stroke="#000" stroke-width="0.8" />
<rect x="747.5" y="342" width="22" height="24" fill="#fff" stroke="#000" stroke-width="1" />
<rect x="769" y="337" width="7.5" height="34" fill="#fff" stroke="#000" stroke-width="1" />
<circle cx="761" cy="338.5" r="2.8" fill="#fff"/>
<circle cx="761" cy="338.5" r="2.8" fill="url(#h8)" stroke="#000" stroke-width="0.9" />
<circle cx="751" cy="367.5" r="2.8" fill="#fff"/>
<circle cx="751" cy="367.5" r="2.8" fill="url(#h8)" stroke="#000" stroke-width="0.9" />
<circle cx="766" cy="367.5" r="2.8" fill="#fff"/>
<circle cx="766" cy="367.5" r="2.8" fill="url(#h8)" stroke="#000" stroke-width="0.9" />
<circle cx="805.5" cy="354" r="28.5" fill="#fff"/>
<circle cx="805.5" cy="354" r="28.5" fill="url(#hC)" stroke="#000" stroke-width="1" />
<rect x="777" y="341.8" width="57" height="24.4" fill="#fff" stroke="#000" stroke-width="1" />
<line x1="819.3" y1="341.8" x2="819.3" y2="366.2" stroke="#000" stroke-width="0.9" />
<line x1="821.6" y1="341.8" x2="821.6" y2="366.2" stroke="#000" stroke-width="0.9" />
<circle cx="800.8" cy="354" r="1.8" fill="#fff" stroke="#000" stroke-width="0.9" />
<path d="M586.3,387.3 C592,386 598,389 605,389.5 C615,390 620,390 630,391 C640,392 645,396 651.7,399.5 C655,402 656,406 656,410 L656,424 L586.3,424 Z" fill="#fff" stroke="none"/>
<path d="M586.3,387.3 C592,386 598,389 605,389.5 C615,390 620,390 630,391 C640,392 645,396 651.7,399.5 C655,402 656,406 656,410 L656,424 L586.3,424 Z" fill="url(#h7)" stroke="#000" stroke-width="0.9" />
<path d="M601.9,402 L652,402 C655,404 655.8,420 655.8,424 L601.9,424 Z" fill="#fff" stroke="#000" stroke-width="1" />
<line x1="604" y1="402" x2="604" y2="405" stroke="#000" stroke-width="0.9" />
<line x1="604" y1="411" x2="604" y2="424" stroke="#000" stroke-width="1" />
<line x1="607.8" y1="402" x2="607.8" y2="405" stroke="#000" stroke-width="0.9" />
<line x1="607.8" y1="411" x2="607.8" y2="424" stroke="#000" stroke-width="1" />
<line x1="611.6" y1="402" x2="611.6" y2="405" stroke="#000" stroke-width="0.9" />
<line x1="611.6" y1="411" x2="611.6" y2="424" stroke="#000" stroke-width="1" />
<line x1="615.4" y1="402" x2="615.4" y2="405" stroke="#000" stroke-width="0.9" />
<line x1="615.4" y1="411" x2="615.4" y2="424" stroke="#000" stroke-width="1" />
<line x1="619.2" y1="402" x2="619.2" y2="405" stroke="#000" stroke-width="0.9" />
<line x1="619.2" y1="411" x2="619.2" y2="424" stroke="#000" stroke-width="1" />
<line x1="623" y1="402" x2="623" y2="405" stroke="#000" stroke-width="0.9" />
<line x1="623" y1="411" x2="623" y2="424" stroke="#000" stroke-width="1" />
<line x1="626.8" y1="402" x2="626.8" y2="405" stroke="#000" stroke-width="0.9" />
<line x1="626.8" y1="411" x2="626.8" y2="424" stroke="#000" stroke-width="1" />
<line x1="630.6" y1="402" x2="630.6" y2="405" stroke="#000" stroke-width="0.9" />
<line x1="630.6" y1="411" x2="630.6" y2="424" stroke="#000" stroke-width="1" />
<line x1="634.4" y1="402" x2="634.4" y2="405" stroke="#000" stroke-width="0.9" />
<line x1="634.4" y1="411" x2="634.4" y2="424" stroke="#000" stroke-width="1" />
<line x1="638.2" y1="402" x2="638.2" y2="405" stroke="#000" stroke-width="0.9" />
<line x1="638.2" y1="411" x2="638.2" y2="424" stroke="#000" stroke-width="1" />
<line x1="642" y1="402" x2="642" y2="405" stroke="#000" stroke-width="0.9" />
<line x1="642" y1="411" x2="642" y2="424" stroke="#000" stroke-width="1" />
<line x1="645.8" y1="402" x2="645.8" y2="405" stroke="#000" stroke-width="0.9" />
<line x1="645.8" y1="411" x2="645.8" y2="424" stroke="#000" stroke-width="1" />
<line x1="649.6" y1="402" x2="649.6" y2="405" stroke="#000" stroke-width="0.9" />
<line x1="649.6" y1="411" x2="649.6" y2="424" stroke="#000" stroke-width="1" />
<path d="M583,395.4 L599,395.4 Q601.9,395.4 601.9,398 L601.9,426 Q601.9,428.9 599,428.9 L583,428.9 Q580.1,428.9 580.1,426 L580.1,398 Q580.1,395.4 583,395.4 Z" fill="#fff" stroke="#000" stroke-width="1.2" />
<rect x="710" y="400" width="20" height="23" fill="#fff" stroke="#000" stroke-width="1" />
<line x1="712.5" y1="400" x2="712.5" y2="423" stroke="#000" stroke-width="0.9" />
<line x1="715.5" y1="400" x2="715.5" y2="423" stroke="#000" stroke-width="0.9" />
<line x1="718.5" y1="400" x2="718.5" y2="423" stroke="#000" stroke-width="0.9" />
<line x1="721.5" y1="400" x2="721.5" y2="423" stroke="#000" stroke-width="0.9" />
<line x1="724.5" y1="400" x2="724.5" y2="423" stroke="#000" stroke-width="0.9" />
<line x1="727.5" y1="400" x2="727.5" y2="423" stroke="#000" stroke-width="0.9" />
<rect x="704" y="405" width="5" height="12" fill="#fff"/>
<rect x="704" y="405" width="5" height="12" fill="url(#h3)" stroke="#000" stroke-width="0.9" />
<rect x="703" y="287.4" width="6.8" height="12.4" fill="#fff"/>
<rect x="703" y="287.4" width="6.8" height="12.4" fill="url(#h5)" stroke="#000" stroke-width="0.9" />
<path d="M492.6,663.4 L562.3,663.4 L562.3,667 L578.9,667 L578.9,723 L562.3,723 L562.3,775.3 C562.3,780 565,783 569.3,783 L583.4,783 Q586,783 587.5,786.5 L596.3,819 L596.5,993 C596.5,997 594,999.5 590,999.5 L410,999.5 C406,999.5 403.5,997 403.5,993 L403.5,938 C403.5,931 400,927 395,927 L347,927 C341,927 336.3,924 336.3,918 L336.3,860 C330,845 320,830 313.3,816.7 L313.3,765 C316,760 322,752 330,750.7 L400,750.7 L421,750.7 L480.8,750.7 C486,750 491,746 492.6,740 Z" fill="#fff" stroke="none"/>
<path d="M492.6,663.4 L562.3,663.4 L562.3,667 L578.9,667 L578.9,723 L562.3,723 L562.3,775.3 C562.3,780 565,783 569.3,783 L583.4,783 Q586,783 587.5,786.5 L596.3,819 L596.5,993 C596.5,997 594,999.5 590,999.5 L410,999.5 C406,999.5 403.5,997 403.5,993 L403.5,938 C403.5,931 400,927 395,927 L347,927 C341,927 336.3,924 336.3,918 L336.3,860 C330,845 320,830 313.3,816.7 L313.3,765 C316,760 322,752 330,750.7 L400,750.7 L421,750.7 L480.8,750.7 C486,750 491,746 492.6,740 Z" fill="url(#hA)" stroke="#000" stroke-width="1.05" />
<path d="M492.6,663.4 L492.6,634 C492.6,631 494,629.8 497,629.8 L558,629.8 C561,629.8 562.3,631 562.3,634 L562.3,663.4 Z" fill="#fff" stroke="#000" stroke-width="1.2" />
<line x1="492.6" y1="633" x2="562.3" y2="633" stroke="#000" stroke-width="0.9" />
<rect x="504.8" y="663.4" width="44.5" height="82.3" fill="#fff" stroke="#000" stroke-width="1.2" />
<rect x="506" y="669" width="42" height="9" fill="#fff" stroke="#000" stroke-width="1" />
<line x1="504.8" y1="678" x2="549.3" y2="678" stroke="#000" stroke-width="1" />
<path d="M510,690 L546,690 L546,694 L510,694 Z" fill="none" stroke="#000" stroke-width="1" />
<rect x="513" y="694" width="31" height="9" fill="#fff" stroke="#000" stroke-width="1" />
<line x1="509" y1="703" x2="547" y2="703" stroke="#000" stroke-width="1" />
<circle cx="512" cy="698" r="2.6" fill="#fff"/>
<circle cx="512" cy="698" r="2.6" fill="url(#h8)" stroke="#000" stroke-width="1" />
<circle cx="542" cy="698" r="2.6" fill="#fff"/>
<circle cx="542" cy="698" r="2.6" fill="url(#h8)" stroke="#000" stroke-width="1" />
<circle cx="512" cy="705" r="2.6" fill="#fff"/>
<circle cx="512" cy="705" r="2.6" fill="url(#h8)" stroke="#000" stroke-width="1" />
<rect x="513" y="716" width="31" height="10" fill="#fff" stroke="#000" stroke-width="1" />
<line x1="509" y1="726" x2="547" y2="726" stroke="#000" stroke-width="1" />
<circle cx="542" cy="714" r="2.6" fill="#fff"/>
<circle cx="542" cy="714" r="2.6" fill="url(#h8)" stroke="#000" stroke-width="1" />
<circle cx="512" cy="726" r="2.6" fill="#fff"/>
<circle cx="512" cy="726" r="2.6" fill="url(#h8)" stroke="#000" stroke-width="1" />
<circle cx="542" cy="726" r="2.6" fill="#fff"/>
<circle cx="542" cy="726" r="2.6" fill="url(#h8)" stroke="#000" stroke-width="1" />
<rect x="508" y="730" width="40" height="6" fill="#fff" stroke="#000" stroke-width="1" />
<rect x="507" y="738" width="42" height="7" fill="#fff" stroke="#000" stroke-width="1" />
<rect x="549.3" y="680" width="13" height="32" fill="#fff" stroke="#000" stroke-width="1" />
<rect x="559" y="680" width="19.5" height="32" fill="#fff" stroke="#000" stroke-width="1" />
<line x1="561.21" y1="681" x2="561.21" y2="711" stroke="#000" stroke-width="0.9" />
<line x1="563.64" y1="681" x2="563.64" y2="711" stroke="#000" stroke-width="0.9" />
<line x1="566.07" y1="681" x2="566.07" y2="711" stroke="#000" stroke-width="0.9" />
<line x1="568.5" y1="681" x2="568.5" y2="711" stroke="#000" stroke-width="0.9" />
<line x1="570.93" y1="681" x2="570.93" y2="711" stroke="#000" stroke-width="0.9" />
<line x1="573.36" y1="681" x2="573.36" y2="711" stroke="#000" stroke-width="0.9" />
<line x1="575.79" y1="681" x2="575.79" y2="711" stroke="#000" stroke-width="0.9" />
<rect x="578.9" y="676.8" width="7" height="39.2" fill="#fff" stroke="#000" stroke-width="1" />
<circle cx="575" cy="681" r="3" fill="#fff" stroke="#000" stroke-width="0.9" />
<circle cx="575" cy="711" r="3" fill="#fff" stroke="#000" stroke-width="0.9" />
<rect x="509" y="745.7" width="34" height="40" fill="#fff" stroke="#000" stroke-width="1.1" />
<line x1="509" y1="748.86" x2="543" y2="748.86" stroke="#000" stroke-width="0.9" />
<line x1="509" y1="754.57" x2="543" y2="754.57" stroke="#000" stroke-width="0.9" />
<line x1="509" y1="760.29" x2="543" y2="760.29" stroke="#000" stroke-width="0.9" />
<line x1="509" y1="766" x2="543" y2="766" stroke="#000" stroke-width="0.9" />
<line x1="509" y1="771.71" x2="543" y2="771.71" stroke="#000" stroke-width="0.9" />
<line x1="509" y1="777.43" x2="543" y2="777.43" stroke="#000" stroke-width="0.9" />
<line x1="509" y1="783.14" x2="543" y2="783.14" stroke="#000" stroke-width="0.9" />
<rect x="506" y="786" width="41" height="5" fill="#fff" stroke="#000" stroke-width="1" />
<rect x="515.4" y="791" width="23.9" height="88" fill="#fff" stroke="#000" stroke-width="1.1" />
<line x1="515.4" y1="797" x2="539.3" y2="797" stroke="#000" stroke-width="1" />
<line x1="518" y1="803" x2="537" y2="803" stroke="#000" stroke-width="0.9" />
<line x1="515.4" y1="830" x2="539.3" y2="830" stroke="#000" stroke-width="1" />
<line x1="515.4" y1="836" x2="539.3" y2="836" stroke="#000" stroke-width="1" />
<line x1="518" y1="803" x2="518" y2="828" stroke="#000" stroke-width="0.8" />
<line x1="537" y1="803" x2="537" y2="828" stroke="#000" stroke-width="0.8" />
<line x1="515.4" y1="875" x2="539.3" y2="875" stroke="#000" stroke-width="1" />
<path d="M539.3,860 L543,864 L539.3,868" fill="none" stroke="#000" stroke-width="0.9" />
<path d="M507.5,879.3 L546,879.3 C551,879.3 555,883 555,888 L555,906 C555,911 551,915.1 546,915.1 L507.5,915.1 C502.5,915.1 498.5,911 498.5,906 L498.5,888 C498.5,883 502.5,879.3 507.5,879.3 Z" fill="#fff" stroke="#000" stroke-width="0.9" />
<path d="M508,879.3 L545.1,879.3 L545.1,904.8 L539.7,904.8 L539.7,915.1 L513.7,915.1 L513.7,904.8 L508,904.8 Z" fill="#fff" stroke="#000" stroke-width="1.1" />
<line x1="513.7" y1="879.3" x2="513.7" y2="904.8" stroke="#888" stroke-width="0.8" />
<line x1="539.7" y1="879.3" x2="539.7" y2="904.8" stroke="#888" stroke-width="0.8" />
<path d="M520,879.3 L520,888.7 L524,891.5 L529.5,891.5 L533.5,888.7 L533.5,879.3" fill="none" stroke="#000" stroke-width="1" />
<circle cx="526.7" cy="883.7" r="3.3" fill="#fff" stroke="#000" stroke-width="1" />
<path d="M516,893.2 L537.5,893.2 Q539.7,893.2 539.7,895.5 L539.7,903.5 Q539.7,905.7 537.5,905.7 L516,905.7 Q513.7,905.7 513.7,903.5 L513.7,895.5 Q513.7,893.2 516,893.2 Z" fill="none" stroke="#000" stroke-width="1" />
<rect x="518.7" y="905.7" width="17" height="4" fill="#fff" stroke="#000" stroke-width="0.9" />
<rect x="515.5" y="909.7" width="23.3" height="5.4" fill="#fff" stroke="#000" stroke-width="1" />
<rect x="507.5" y="915.1" width="39" height="30" fill="#fff" stroke="#000" stroke-width="1.3" />
<rect x="520" y="915.1" width="14" height="7.6" fill="#fff" stroke="#000" stroke-width="1" />
<circle cx="516.9" cy="923.2" r="2.8" fill="#fff"/>
<circle cx="516.9" cy="923.2" r="2.8" fill="url(#h5)" stroke="#000" stroke-width="0.9" />
<circle cx="537.9" cy="918.2" r="2.8" fill="#fff"/>
<circle cx="537.9" cy="918.2" r="2.8" fill="url(#h5)" stroke="#000" stroke-width="0.9" />
<path d="M520.5,922.7 L533,922.7 L533,928 L531.5,928 L531.5,937 L522,937 L522,928 L520.5,928 Z" fill="none" stroke="#000" stroke-width="1" />
<rect x="507.5" y="945.1" width="39" height="24" fill="#fff" stroke="#000" stroke-width="1.5" />
<rect x="505.5" y="969" width="41.8" height="26" fill="#fff" stroke="#000" stroke-width="1.1" />
<line x1="505.5" y1="971.1" x2="547.3" y2="971.1" stroke="#000" stroke-width="0.9" />
<line x1="505.5" y1="975.3" x2="547.3" y2="975.3" stroke="#000" stroke-width="0.9" />
<line x1="505.5" y1="979.5" x2="547.3" y2="979.5" stroke="#000" stroke-width="0.9" />
<line x1="505.5" y1="983.7" x2="547.3" y2="983.7" stroke="#000" stroke-width="0.9" />
<line x1="505.5" y1="987.9" x2="547.3" y2="987.9" stroke="#000" stroke-width="0.9" />
<rect x="504" y="989" width="46" height="6" fill="#fff" stroke="#000" stroke-width="1" />
<rect x="501.6" y="995" width="50.9" height="9" fill="#fff" stroke="#000" stroke-width="1.1" />
<rect x="499" y="1004" width="55.6" height="17.5" fill="#fff" stroke="#000" stroke-width="1.2" />
<line x1="527" y1="1004" x2="527" y2="1021.5" stroke="#000" stroke-width="0.9" />
<rect x="514.6" y="1021.5" width="24.9" height="15.5" fill="#fff" stroke="#000" stroke-width="1.1" />
<line x1="527" y1="1021.5" x2="527" y2="1037" stroke="#000" stroke-width="0.9" />
<rect x="518" y="1037" width="18.3" height="23.7" fill="#fff" stroke="#000" stroke-width="1.1" />
<line x1="518" y1="1039.83" x2="536.3" y2="1039.83" stroke="#000" stroke-width="0.9" />
<line x1="518" y1="1043.5" x2="536.3" y2="1043.5" stroke="#000" stroke-width="0.9" />
<line x1="518" y1="1047.17" x2="536.3" y2="1047.17" stroke="#000" stroke-width="0.9" />
<line x1="518" y1="1050.83" x2="536.3" y2="1050.83" stroke="#000" stroke-width="0.9" />
<line x1="518" y1="1054.5" x2="536.3" y2="1054.5" stroke="#000" stroke-width="0.9" />
<line x1="518" y1="1058.17" x2="536.3" y2="1058.17" stroke="#000" stroke-width="0.9" />
<circle cx="422.5" cy="843" r="10.8" fill="#fff"/>
<circle cx="422.5" cy="843" r="10.8" fill="url(#hD)" stroke="#000" stroke-width="1.2" />
<circle cx="422.5" cy="843" r="9" fill="none" stroke="#000" stroke-width="0.8" />
<circle cx="491.4" cy="843.6" r="10.8" fill="#fff"/>
<circle cx="491.4" cy="843.6" r="10.8" fill="url(#hD)" stroke="#000" stroke-width="1.2" />
<circle cx="491.4" cy="843.6" r="9" fill="none" stroke="#000" stroke-width="0.8" />
<circle cx="577.6" cy="857.2" r="10.8" fill="#fff"/>
<circle cx="577.6" cy="857.2" r="10.8" fill="url(#hD)" stroke="#000" stroke-width="1.2" />
<circle cx="577.6" cy="857.2" r="9" fill="none" stroke="#000" stroke-width="0.8" />
<circle cx="422.6" cy="980.5" r="10.8" fill="#fff"/>
<circle cx="422.6" cy="980.5" r="10.8" fill="url(#hD)" stroke="#000" stroke-width="1.2" />
<circle cx="422.6" cy="980.5" r="9" fill="none" stroke="#000" stroke-width="0.8" />
<circle cx="578" cy="980.5" r="10.8" fill="#fff"/>
<circle cx="578" cy="980.5" r="10.8" fill="url(#hD)" stroke="#000" stroke-width="1.2" />
<circle cx="578" cy="980.5" r="9" fill="none" stroke="#000" stroke-width="0.8" />
<rect x="384.7" y="860.8" width="131" height="8.8" fill="#fff" stroke="#000" stroke-width="1" />
<circle cx="465" cy="865" r="4.3" fill="#fff" stroke="#000" stroke-width="0.9" />
<rect x="357" y="905" width="74.4" height="11.7" fill="#fff" stroke="#000" stroke-width="1" />
<circle cx="431" cy="911" r="5" fill="#fff" stroke="#000" stroke-width="0.9" />
<rect x="337" y="905" width="20" height="11.7" fill="#fff" stroke="#000" stroke-width="1" />
<line x1="339.5" y1="905" x2="339.5" y2="916.7" stroke="#000" stroke-width="0.9" />
<line x1="342.5" y1="905" x2="342.5" y2="916.7" stroke="#000" stroke-width="0.9" />
<line x1="345.5" y1="905" x2="345.5" y2="916.7" stroke="#000" stroke-width="0.9" />
<line x1="348.5" y1="905" x2="348.5" y2="916.7" stroke="#000" stroke-width="0.9" />
<line x1="351.5" y1="905" x2="351.5" y2="916.7" stroke="#000" stroke-width="0.9" />
<line x1="354.5" y1="905" x2="354.5" y2="916.7" stroke="#000" stroke-width="0.9" />
<rect x="337" y="858.8" width="21" height="13.7" fill="#fff" stroke="#000" stroke-width="1" />
<line x1="339.58" y1="858.8" x2="339.58" y2="872.5" stroke="#000" stroke-width="0.9" />
<line x1="342.75" y1="858.8" x2="342.75" y2="872.5" stroke="#000" stroke-width="0.9" />
<line x1="345.92" y1="858.8" x2="345.92" y2="872.5" stroke="#000" stroke-width="0.9" />
<line x1="349.08" y1="858.8" x2="349.08" y2="872.5" stroke="#000" stroke-width="0.9" />
<line x1="352.25" y1="858.8" x2="352.25" y2="872.5" stroke="#000" stroke-width="0.9" />
<line x1="355.42" y1="858.8" x2="355.42" y2="872.5" stroke="#000" stroke-width="0.9" />
<rect x="369" y="887" width="7" height="18" fill="#fff" stroke="#000" stroke-width="1" />
<rect x="361" y="797" width="23.7" height="90" fill="#fff" stroke="#000" stroke-width="1.1" />
<line x1="361" y1="803" x2="384.7" y2="803" stroke="#000" stroke-width="1" />
<line x1="361" y1="829" x2="384.7" y2="829" stroke="#000" stroke-width="1" />
<line x1="361" y1="834" x2="384.7" y2="834" stroke="#000" stroke-width="1" />
<line x1="361" y1="868" x2="384.7" y2="868" stroke="#000" stroke-width="1" />
<line x1="361" y1="874" x2="384.7" y2="874" stroke="#000" stroke-width="1" />
<line x1="361" y1="880" x2="384.7" y2="880" stroke="#000" stroke-width="1" />
<line x1="364" y1="803" x2="364" y2="868" stroke="#000" stroke-width="0.8" />
<line x1="381" y1="803" x2="381" y2="868" stroke="#000" stroke-width="0.8" />
<path d="M313.3,765 L348,765 L348,816.7 L313.3,816.7 Z" fill="#fff" stroke="none" stroke-width="0" />
<rect x="317" y="773.2" width="27.8" height="30.4" fill="#fff" stroke="#000" stroke-width="1" />
<line x1="319.62" y1="773.2" x2="319.62" y2="803.6" stroke="#000" stroke-width="0.9" />
<line x1="322.88" y1="773.2" x2="322.88" y2="803.6" stroke="#000" stroke-width="0.9" />
<line x1="326.12" y1="773.2" x2="326.12" y2="803.6" stroke="#000" stroke-width="0.9" />
<line x1="329.38" y1="773.2" x2="329.38" y2="803.6" stroke="#000" stroke-width="0.9" />
<line x1="332.62" y1="773.2" x2="332.62" y2="803.6" stroke="#000" stroke-width="0.9" />
<line x1="335.88" y1="773.2" x2="335.88" y2="803.6" stroke="#000" stroke-width="0.9" />
<line x1="339.12" y1="773.2" x2="339.12" y2="803.6" stroke="#000" stroke-width="0.9" />
<line x1="342.38" y1="773.2" x2="342.38" y2="803.6" stroke="#000" stroke-width="0.9" />
<line x1="344.8" y1="770" x2="344.8" y2="806" stroke="#000" stroke-width="0.9" />
<line x1="348" y1="770" x2="348" y2="806" stroke="#000" stroke-width="0.9" />
<path d="M313.3,765 C316,760 322,752 330,750.7" fill="none" stroke="#000" stroke-width="1" />
<path d="M339.6,715 L407,715 L407,743.2 L402.4,748 L402.4,753.7 L344,753.7 L344,748 L339.6,743.2 Z" fill="#fff" stroke="none"/>
<path d="M339.6,715 L407,715 L407,743.2 L402.4,748 L402.4,753.7 L344,753.7 L344,748 L339.6,743.2 Z" fill="url(#h7)" stroke="#000" stroke-width="1.2" />
<rect x="364.5" y="715" width="17" height="20" fill="#fff" stroke="#000" stroke-width="1" />
<rect x="351.4" y="734" width="43" height="47" fill="#fff"/>
<rect x="351.4" y="734" width="43" height="47" fill="url(#h7)" stroke="#000" stroke-width="1.1" />
<rect x="356.6" y="736" width="32.1" height="45" fill="#fff" stroke="#000" stroke-width="1" />
<path d="M362,740 L384,740 L384,747 L377,747 L377,761 L369,761 L369,747 L362,747 Z" fill="#fff" stroke="none"/>
<path d="M362,740 L384,740 L384,747 L377,747 L377,761 L369,761 L369,747 L362,747 Z" fill="url(#h5)" stroke="#000" stroke-width="0.9" />
<path d="M369,765 L377,765 L377,775 L384,775 L384,781 L362,781 L362,775 L369,775 Z" fill="#fff" stroke="none"/>
<path d="M369,765 L377,765 L377,775 L384,775 L384,781 L362,781 L362,775 L369,775 Z" fill="url(#h5)" stroke="#000" stroke-width="0.9" />
<circle cx="360" cy="743" r="3" fill="#fff"/>
<circle cx="360" cy="743" r="3" fill="url(#h5)" stroke="#000" stroke-width="0.9" />
<circle cx="386" cy="743" r="3" fill="#fff"/>
<circle cx="386" cy="743" r="3" fill="url(#h5)" stroke="#000" stroke-width="0.9" />
<circle cx="360" cy="751" r="3" fill="#fff"/>
<circle cx="360" cy="751" r="3" fill="url(#h5)" stroke="#000" stroke-width="0.9" />
<circle cx="386" cy="751" r="3" fill="#fff"/>
<circle cx="386" cy="751" r="3" fill="url(#h5)" stroke="#000" stroke-width="0.9" />
<circle cx="360" cy="774" r="3" fill="#fff"/>
<circle cx="360" cy="774" r="3" fill="url(#h5)" stroke="#000" stroke-width="0.9" />
<circle cx="386" cy="774" r="3" fill="#fff"/>
<circle cx="386" cy="774" r="3" fill="url(#h5)" stroke="#000" stroke-width="0.9" />
<rect x="351.4" y="781" width="42.5" height="14.5" fill="#fff" stroke="#000" stroke-width="1.1" />
<rect x="362" y="785" width="22" height="10" fill="#fff" stroke="#000" stroke-width="0.9" />
<rect x="333" y="746" width="8" height="5" fill="#fff" stroke="#000" stroke-width="0.9" />
<rect x="405" y="746" width="8" height="5" fill="#fff" stroke="#000" stroke-width="0.9" />
<path d="M354,711.8 L354,701 C354,699 356,697.5 358,697.5 L388,697.5 C390,697.5 391.9,699 391.9,701 L391.9,711.8 Z" fill="#fff" stroke="#000" stroke-width="1.1" />
<line x1="364.5" y1="697.5" x2="364.5" y2="711.8" stroke="#000" stroke-width="0.9" />
<line x1="381.5" y1="697.5" x2="381.5" y2="711.8" stroke="#000" stroke-width="0.9" />
<rect x="354" y="711.8" width="37.9" height="3.2" fill="#fff" stroke="#000" stroke-width="1" />
<path d="M364.5,697.5 L364.5,679 C364.5,677 366,676.5 368,676.5 L378,676.5 C380,676.5 381.5,677 381.5,679 L381.5,697.5" fill="#fff" stroke="#000" stroke-width="1.1" />
<line x1="365" y1="679.06" x2="381" y2="679.06" stroke="#000" stroke-width="0.9" />
<line x1="365" y1="681.17" x2="381" y2="681.17" stroke="#000" stroke-width="0.9" />
<line x1="365" y1="683.28" x2="381" y2="683.28" stroke="#000" stroke-width="0.9" />
<line x1="365" y1="685.39" x2="381" y2="685.39" stroke="#000" stroke-width="0.9" />
<line x1="365" y1="687.5" x2="381" y2="687.5" stroke="#000" stroke-width="0.9" />
<line x1="365" y1="689.61" x2="381" y2="689.61" stroke="#000" stroke-width="0.9" />
<line x1="365" y1="691.72" x2="381" y2="691.72" stroke="#000" stroke-width="0.9" />
<line x1="365" y1="693.83" x2="381" y2="693.83" stroke="#000" stroke-width="0.9" />
<line x1="365" y1="695.94" x2="381" y2="695.94" stroke="#000" stroke-width="0.9" />
<path d="M422.5,742.3 L478.5,742.3 Q480.5,742.3 480.5,744.3 L480.5,751.2 L420.6,751.2 L420.6,744.3 Q420.6,742.3 422.5,742.3 Z" fill="#fff" stroke="#000" stroke-width="1.1" />
<rect x="424" y="751.2" width="53.7" height="6.2" fill="#fff" stroke="#000" stroke-width="1" />
<rect x="424.5" y="752" width="3" height="4" fill="#fff" stroke="#000" stroke-width="0.6" />
<rect x="474" y="752" width="3" height="4" fill="#fff" stroke="#000" stroke-width="0.6" />
<rect x="426.2" y="757.4" width="48.2" height="23.6" fill="#fff" stroke="#000" stroke-width="1.2" />
<line x1="426.2" y1="761" x2="433" y2="761" stroke="#000" stroke-width="0.9" />
<line x1="442" y1="761" x2="474.4" y2="761" stroke="#000" stroke-width="1" />
<line x1="426.2" y1="764.8" x2="433" y2="764.8" stroke="#000" stroke-width="0.9" />
<line x1="442" y1="764.8" x2="474.4" y2="764.8" stroke="#000" stroke-width="1" />
<line x1="426.2" y1="768.6" x2="433" y2="768.6" stroke="#000" stroke-width="0.9" />
<line x1="442" y1="768.6" x2="474.4" y2="768.6" stroke="#000" stroke-width="1" />
<line x1="426.2" y1="772.4" x2="433" y2="772.4" stroke="#000" stroke-width="0.9" />
<line x1="442" y1="772.4" x2="474.4" y2="772.4" stroke="#000" stroke-width="1" />
<line x1="426.2" y1="776.2" x2="433" y2="776.2" stroke="#000" stroke-width="0.9" />
<line x1="442" y1="776.2" x2="474.4" y2="776.2" stroke="#000" stroke-width="1" />
<line x1="426.2" y1="779.5" x2="433" y2="779.5" stroke="#000" stroke-width="0.9" />
<line x1="442" y1="779.5" x2="474.4" y2="779.5" stroke="#000" stroke-width="1" />
<rect x="427.9" y="781" width="44.8" height="15" fill="#fff" stroke="#000" stroke-width="1.1" />
<path d="M435.7,781 L447.5,781 L447.5,796 L435.7,796 Z M453.6,781 L464.8,781 L464.8,796 L453.6,796 Z" fill="#fff" stroke="none"/>
<path d="M435.7,781 L447.5,781 L447.5,796 L435.7,796 Z M453.6,781 L464.8,781 L464.8,796 L453.6,796 Z" fill="url(#h5)" stroke="#000" stroke-width="0.9" />
<rect x="439" y="796" width="22" height="56.6" fill="#fff" stroke="#000" stroke-width="1.2" />
<path d="M439,796 L447.5,796 L447.5,809 L439,809 Z M453.6,796 L461,796 L461,809 L453.6,809 Z" fill="#fff" stroke="none"/>
<path d="M439,796 L447.5,796 L447.5,809 L439,809 Z M453.6,796 L461,796 L461,809 L453.6,809 Z" fill="url(#h5)" stroke="#000" stroke-width="0.9" />
<rect x="447.5" y="796" width="6.1" height="26" fill="#fff" stroke="#000" stroke-width="0.9" />
<line x1="439" y1="809" x2="461" y2="809" stroke="#000" stroke-width="0.9" />
<line x1="439" y1="814.5" x2="461" y2="814.5" stroke="#000" stroke-width="0.9" />
<path d="M439,818 L447.5,818 L450.3,826 L453.6,818 L461,818 L461,828 L456,828 L450.3,824 L444.5,828 L439,828 Z" fill="#fff" stroke="none"/>
<path d="M439,818 L447.5,818 L450.3,826 L453.6,818 L461,818 L461,828 L456,828 L450.3,824 L444.5,828 L439,828 Z" fill="url(#h5)" stroke="#000" stroke-width="0.9" />
<path d="M440.5,838 L444,838 L444,851 L456.5,851 L456.5,838 L460,838 L460,852.6 L440.5,852.6 Z" fill="#fff" stroke="none"/>
<path d="M440.5,838 L444,838 L444,851 L456.5,851 L456.5,838 L460,838 L460,852.6 L440.5,852.6 Z" fill="url(#h5)" stroke="#000" stroke-width="0.9" />
<circle cx="450.3" cy="832.4" r="5" fill="#fff" stroke="#000" stroke-width="1" />
<line x1="400" y1="750.7" x2="421" y2="750.7" stroke="#000" stroke-width="1.2" />
<text x="88.2" y="61" font-family="Liberation Sans" font-weight="bold" font-size="15.2">13</text>
<text x="255" y="58.1" font-family="Liberation Sans" font-weight="bold" font-size="15.2">12</text>
<text x="304.3" y="117" font-family="Liberation Sans" font-weight="bold" font-size="15.2">11</text>
<text x="297.9" y="210.7" font-family="Liberation Sans" font-weight="bold" font-size="15.2">10</text>
<text x="476.1" y="302.8" font-family="Liberation Sans" font-weight="bold" font-size="15.2">9</text>
<text x="476.1" y="352.8" font-family="Liberation Sans" font-weight="bold" font-size="15.2">8</text>
<text x="516.1" y="544.8" font-family="Liberation Sans" font-weight="bold" font-size="15.2">7</text>
<text x="57.9" y="622.9" font-family="Liberation Sans" font-weight="bold" font-size="15.2">14</text>
<text x="271.9" y="627.9" font-family="Liberation Sans" font-weight="bold" font-size="15.2">15</text>
<text x="797.7" y="274.8" font-family="Liberation Sans" font-weight="bold" font-size="15.2">18</text>
<text x="795.4" y="309.8" font-family="Liberation Sans" font-weight="bold" font-size="15.2">17</text>
<text x="795.4" y="415" font-family="Liberation Sans" font-weight="bold" font-size="15.2">16</text>
<text x="602.5" y="471.8" font-family="Liberation Sans" font-weight="bold" font-size="15.2">20</text>
<text x="538.8" y="334.8" font-family="Liberation Sans" font-weight="bold" font-size="15.2">19</text>
<text x="622.2" y="630.9" font-family="Liberation Sans" font-weight="bold" font-size="15.2">3-2</text>
<text x="425.9" y="659.6" font-family="Liberation Sans" font-weight="bold" font-size="15.2">4</text>
<text x="279.8" y="691" font-family="Liberation Sans" font-weight="bold" font-size="15.2">5</text>
<text x="239.5" y="947" font-family="Liberation Sans" font-weight="bold" font-size="15.2">6</text>
<text x="676.6" y="940.9" font-family="Liberation Sans" font-weight="bold" font-size="15.2">1</text>
<line x1="113" y1="61.3" x2="138.4" y2="88" stroke="#000" stroke-width="1.4" />
<line x1="246" y1="61" x2="222.5" y2="87.5" stroke="#000" stroke-width="1.4" />
<line x1="295.5" y1="113" x2="214" y2="142.5" stroke="#000" stroke-width="1.4" />
<line x1="292" y1="225" x2="265" y2="332" stroke="#000" stroke-width="1.4" />
<line x1="468.7" y1="298.8" x2="266" y2="375" stroke="#000" stroke-width="1.4" />
<line x1="468.7" y1="348.4" x2="286" y2="407.5" stroke="#000" stroke-width="1.4" />
<line x1="508.8" y1="536.1" x2="389" y2="501" stroke="#000" stroke-width="1.4" />
<line x1="83.6" y1="611.3" x2="147.6" y2="578" stroke="#000" stroke-width="1.4" />
<line x1="223" y1="439" x2="268.1" y2="611.5" stroke="#000" stroke-width="1.4" />
<line x1="788.8" y1="271" x2="697" y2="309" stroke="#000" stroke-width="1.4" />
<line x1="788.8" y1="304" x2="697" y2="321" stroke="#000" stroke-width="1.4" />
<line x1="788.8" y1="407" x2="697" y2="394" stroke="#000" stroke-width="1.4" />
<line x1="626.4" y1="457.7" x2="674.4" y2="413" stroke="#000" stroke-width="1.4" />
<line x1="563" y1="344.8" x2="581" y2="395.4" stroke="#000" stroke-width="1.4" />
<line x1="614.6" y1="636" x2="585" y2="676.8" stroke="#000" stroke-width="1.4" />
<line x1="438.2" y1="671.4" x2="449.2" y2="742" stroke="#000" stroke-width="1.4" />
<line x1="297.5" y1="688" x2="339.2" y2="715.9" stroke="#000" stroke-width="1.4" />
<line x1="257.2" y1="937" x2="336" y2="912" stroke="#000" stroke-width="1.4" />
<line x1="668.7" y1="932.9" x2="599" y2="923" stroke="#000" stroke-width="1.4" />
<path d="M169.5,75.7 L175.2,57.3 L181,75.7 M171.6,69 L179,69" fill="none" stroke="#000" stroke-width="1.8" stroke-linejoin="bevel"/>
<line x1="188" y1="62.5" x2="188" y2="80" stroke="#000" stroke-width="2.6" />
<line x1="188" y1="63.5" x2="204" y2="63.5" stroke="#000" stroke-width="2.4" />
<path d="M202,60 L216.8,63.5 L202,67 Z" fill="#000" stroke="#000" stroke-width="0" />
<path d="M169.5,676 L175.2,658.4 L181,676 M171.6,669.5 L179,669.5" fill="none" stroke="#000" stroke-width="1.8" stroke-linejoin="bevel"/>
<line x1="188" y1="650" x2="188" y2="668" stroke="#000" stroke-width="2.6" />
<line x1="188" y1="667" x2="204" y2="667" stroke="#000" stroke-width="2.4" />
<path d="M202,663.5 L216.8,667 L202,670.5 Z" fill="#000" stroke="#000" stroke-width="0" />
<line x1="188" y1="80" x2="188" y2="645" stroke="#000" stroke-width="2.2" stroke-dasharray="31 7"/>
<path d="M69.5,390.5 L69.5,409.5 L76,409.5 C79.5,409.5 81,407.5 81,404.5 C81,401.5 79,399.8 76,399.8 L69.5,399.8 M76,399.8 C78.5,399.8 80.2,398 80.2,395.2 C80.2,392.5 78.5,390.5 76,390.5 L69.5,390.5" fill="none" stroke="#000" stroke-width="2" />
<line x1="69.4" y1="419.4" x2="83.2" y2="419.4" stroke="#000" stroke-width="2.8" />
<line x1="89.2" y1="419.4" x2="116.4" y2="419.4" stroke="#000" stroke-width="2.8" />
<line x1="121.9" y1="419.4" x2="135" y2="419.4" stroke="#000" stroke-width="2.8" />
<line x1="69.6" y1="419.4" x2="69.6" y2="436" stroke="#000" stroke-width="2.4" />
<path d="M66.3,434.5 L72.9,434.5 L69.6,447.5 Z" fill="#000" stroke="#000" stroke-width="0" />
<path d="M490.0,390.5 L490.0,409.5 L496.5,409.5 C500.0,409.5 501.5,407.5 501.5,404.5 C501.5,401.5 499.5,399.8 496.5,399.8 L490.0,399.8 M496.5,399.8 C499.0,399.8 500.7,398 500.7,395.2 C500.7,392.5 499.0,390.5 496.5,390.5 L490.0,390.5" fill="none" stroke="#000" stroke-width="2" />
<line x1="452" y1="419.4" x2="466" y2="419.4" stroke="#000" stroke-width="2.8" />
<line x1="472" y1="419.4" x2="500" y2="419.4" stroke="#000" stroke-width="2.8" />
<line x1="500" y1="419.4" x2="500" y2="436" stroke="#000" stroke-width="2.4" />
<path d="M496.7,434.5 L503.3,434.5 L500,447.5 Z" fill="#000" stroke="#000" stroke-width="0" />
<text x="0" y="0" font-family="Liberation Mono" font-size="13" stroke="#000" stroke-width="0.3" transform="translate(444.8,1086.8) scale(1,1.17)" textLength="91.3" lengthAdjust="spacing">SECTION A-A</text>
<text x="0" y="0" font-family="Liberation Mono" font-size="13" stroke="#000" stroke-width="0.3" transform="translate(664.5,467) scale(1,1.17)" textLength="88.5" lengthAdjust="spacing">SECTION B-B</text>
</svg>
</body></html>
